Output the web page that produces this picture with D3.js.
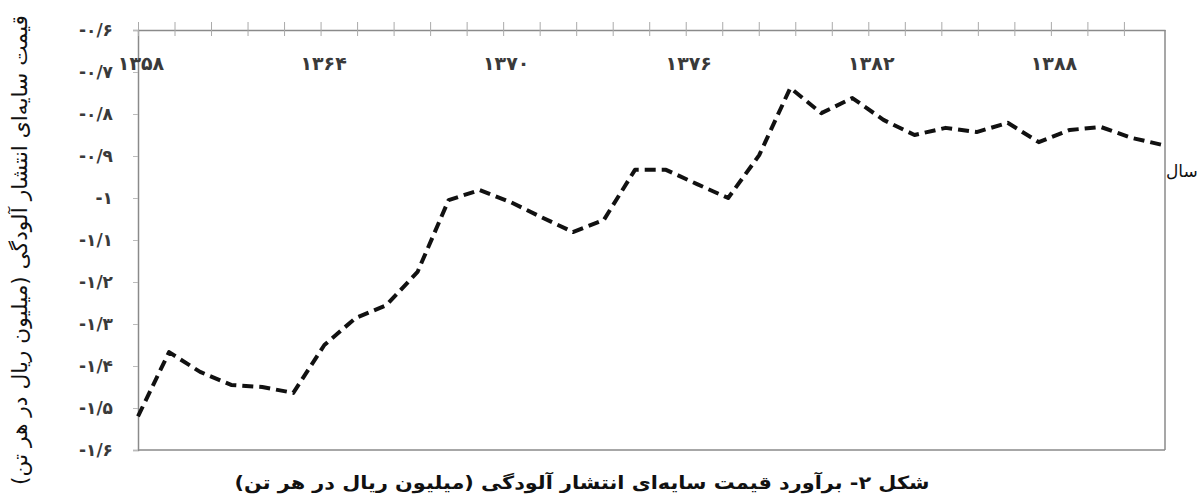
<!DOCTYPE html>
<html>
<head>
<meta charset="utf-8">
<script src="https://cdn.jsdelivr.net/npm/d3@7"></script>
<style>
  body { margin: 0; background: #fff; }
  svg { display: block; }
</style>
</head>
<body>
<svg id="chart" width="1200" height="495"></svg>
<script>
// years and shadow price of pollution (million rial per ton)
const years = d3.range(1358, 1392);
const prices = [
  -1.52, -1.367, -1.414, -1.445, -1.45, -1.464, -1.35, -1.286, -1.255, -1.176,
  -1.005, -0.981, -1.01, -1.046, -1.081, -1.052, -0.933, -0.933, -0.967, -1.0,
  -0.898, -0.738, -0.798, -0.762, -0.814, -0.85, -0.833, -0.843, -0.821, -0.867,
  -0.838, -0.831, -0.857, -0.874
];
const yTicks = [-0.6, -0.7, -0.8, -0.9, -1, -1.1, -1.2, -1.3, -1.4, -1.5, -1.6];
const xLabels = [1358, 1364, 1370, 1376, 1382, 1388];

const yTitle = 'قیمت سایه‌ای انتشار آلودگی (میلیون ریال در هر تن)';
const xTitle = 'سال';
const caption = 'شکل ۲- برآورد قیمت سایه‌ای انتشار آلودگی (میلیون ریال در هر تن)';

const svg = d3.select('#chart');
const plotLeft = 138, plotRight = 1165, plotTop = 30, plotBottom = 450;
const axisColor = '#8a8a8a';

// persian digits
const fa = s => String(s).replace(/\d/g, d => '۰۱۲۳۴۵۶۷۸۹'[d]);
const fmtY = v => {
  const a = Math.abs(v);
  const s = Number.isInteger(a) ? String(a) : a.toFixed(1).replace('.', '/');
  return '-' + fa(s);
};

const x = d3.scaleLinear().domain([1358, 1391]).range([plotLeft, plotRight - 2]);
// printed year axis of the figure
const xAxisScale = d3.scaleLinear().domain([1358, 1391.75]).range([plotLeft, plotRight]);
const y = d3.scaleLinear().domain([-0.6, -1.6]).range([plotTop, plotBottom]);

// frame lines
svg.append('line')
  .attr('x1', plotLeft).attr('x2', plotRight).attr('y1', plotBottom).attr('y2', plotBottom)
  .attr('stroke', axisColor).attr('stroke-width', 1.5);
svg.append('line')
  .attr('x1', plotRight).attr('x2', plotRight).attr('y1', plotTop).attr('y2', plotBottom)
  .attr('stroke', axisColor).attr('stroke-width', 1.5);

// y axis
const yAxis = svg.append('g')
  .attr('transform', `translate(${plotLeft},0)`)
  .call(d3.axisLeft(y).tickValues(yTicks).tickSize(5).tickPadding(20).tickFormat(fmtY));
yAxis.select('.domain').attr('stroke', axisColor).attr('stroke-width', 1.5);
yAxis.selectAll('.tick line').attr('stroke', '#bbb');
yAxis.selectAll('.tick text')
  .attr('fill', '#3a3a3a')
  .attr('font-family', 'DejaVu Sans')
  .attr('font-weight', 'bold')
  .attr('font-size', 17)
  .attr('direction', 'ltr');

// top year axis
const xTickVals = d3.range(0, 28).map(i => 1358 + i * 1.2);
const xAxis = svg.append('g')
  .attr('transform', `translate(0,${plotTop})`)
  .call(d3.axisTop(xAxisScale).tickValues(xTickVals).tickSizeInner(0).tickSizeOuter(0).tickFormat(''));
xAxis.select('.domain').attr('stroke', axisColor).attr('stroke-width', 1.5);
xAxis.selectAll('.tick line')
  .attr('y1', -8).attr('y2', 6)
  .attr('stroke', '#aaa');

svg.append('g').selectAll('text')
  .data(xLabels)
  .join('text')
  .attr('x', d => xAxisScale(d) + 3)
  .attr('y', 70)
  .attr('text-anchor', 'middle')
  .attr('fill', '#3a3a3a')
  .attr('font-family', 'DejaVu Sans')
  .attr('font-weight', 'bold')
  .attr('font-size', 19)
  .text(d => fa(d));

// line
const line = d3.line()
  .x((d, i) => x(years[i]))
  .y(d => y(d));

svg.append('path')
  .datum(prices)
  .attr('fill', 'none')
  .attr('stroke', '#111')
  .attr('stroke-width', 4)
  .attr('stroke-linejoin', 'round')
  .attr('stroke-dasharray', '11,6')
  .attr('d', line);

// titles
svg.append('text')
  .attr('transform', `translate(27,250) rotate(-90)`)
  .attr('text-anchor', 'middle')
  .attr('font-family', 'DejaVu Sans')
  .attr('font-size', 21)
  .attr('textLength', 470)
  .attr('lengthAdjust', 'spacingAndGlyphs')
  .attr('fill', '#111')
  .attr('direction', 'rtl')
  .text(yTitle);

svg.append('text')
  .attr('x', plotRight + 1)
  .attr('y', 177)
  .attr('font-family', 'DejaVu Sans')
  .attr('font-size', 17)
  .attr('fill', '#111')
  .text(xTitle);

svg.append('text')
  .attr('x', 582)
  .attr('y', 489)
  .attr('text-anchor', 'middle')
  .attr('font-family', 'DejaVu Sans')
  .attr('font-weight', 'bold')
  .attr('font-size', 18)
  .attr('textLength', 695)
  .attr('lengthAdjust', 'spacingAndGlyphs')
  .attr('fill', '#111')
  .attr('direction', 'rtl')
  .text(caption);
</script>
</body>
</html>
